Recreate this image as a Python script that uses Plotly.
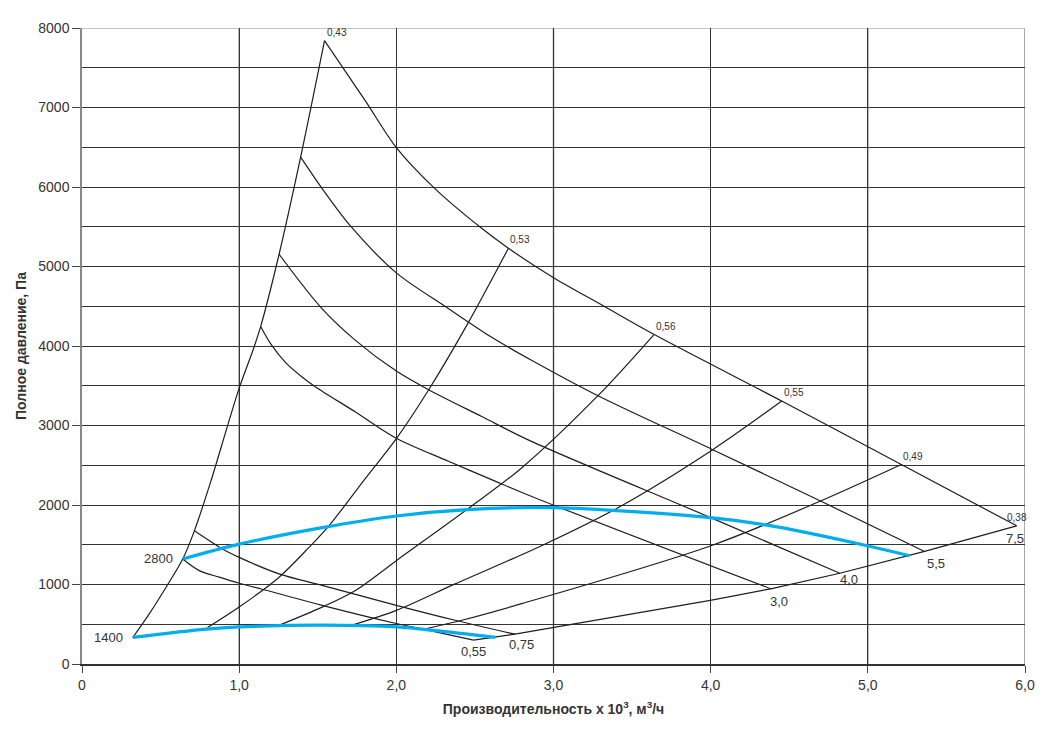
import plotly.graph_objects as go

# ---------------- data (Q in 10^3 m3/h, P in Pa) ----------------
# left envelope (from 1400 point up to top of 7.5 kW curve)
env_q = [0.322, 0.429, 0.535, 0.641, 0.715, 0.820, 0.926, 1.000, 1.095, 1.137, 1.254, 1.391, 1.543]
env_p = [330, 634, 966, 1321, 1675, 2300, 2996, 3470, 3988, 4246, 5154, 6375, 7841]

# fan curves labelled by motor power
c75_q = [1.543, 1.803, 2.000, 2.237, 2.533, 2.713, 2.998, 3.325, 3.632, 4.452, 5.213, 5.947]
c75_p = [7841, 7083, 6496, 5996, 5496, 5229, 4862, 4496, 4154, 3308, 2509, 1738]

c55_q = [1.391, 1.528, 1.708, 2.000, 2.310, 2.607, 2.860, 3.283, 4.013, 4.699, 5.361]
c55_p = [6375, 5980, 5510, 4920, 4500, 4110, 3821, 3375, 2696, 2050, 1416]

c40_q = [1.254, 1.518, 1.740, 2.000, 2.205, 2.543, 2.860, 4.000, 4.822]
c40_p = [5154, 4490, 4071, 3684, 3450, 3113, 2800, 1841, 1141]

c30_q = [1.137, 1.200, 1.296, 1.400, 1.486, 1.740, 2.000, 2.332, 2.628, 2.854, 4.382]
c30_p = [4246, 4030, 3790, 3610, 3485, 3170, 2840, 2550, 2300, 2113, 946]

c075_q = [0.715, 0.894, 1.000, 1.254, 1.528, 2.000, 2.374, 2.755]
c075_p = [1675, 1446, 1341, 1134, 988, 738, 550, 375]

c055_q = [0.641, 0.746, 0.873, 1.000, 1.254, 1.528, 2.000, 2.250, 2.491]
c055_p = [1321, 1175, 1092, 1016, 884, 738, 509, 405, 300]

# lower boundary (0,55 -> 0,75 -> 3,0 -> 4,0 -> 5,5 -> 7,5 end points)
bot_q = [2.491, 2.755, 3.998, 4.382, 4.822, 5.361, 5.947]
bot_p = [300, 375, 800, 946, 1141, 1416, 1738]

# efficiency lines
e53_q = [0.799, 1.000, 1.254, 1.444, 1.571, 1.790, 2.000, 2.205, 2.448, 2.713]
e53_p = [459, 716, 1092, 1466, 1738, 2300, 2834, 3446, 4259, 5229]

e56_q = [1.264, 1.528, 1.740, 2.000, 2.480, 2.797, 3.283, 3.638]
e56_p = [496, 716, 925, 1300, 1988, 2466, 3375, 4141]

e55_q = [1.729, 2.000, 2.374, 2.924, 3.410, 4.013, 4.452]
e55_p = [496, 675, 1008, 1488, 1966, 2696, 3308]

e49_q = [2.194, 2.416, 2.797, 4.002, 4.699, 5.213]
e49_p = [446, 550, 759, 1488, 2050, 2509]

# speed curves (blue)
n1400_q = [0.323, 0.789, 1.000, 1.528, 2.000, 2.269, 2.628]
n1400_p = [334, 438, 466, 488, 466, 416, 334]

n2800_q = [0.641, 1.000, 1.528, 2.000, 2.480, 2.998, 3.998, 4.362, 4.996, 5.266]
n2800_p = [1321, 1508, 1716, 1862, 1946, 1966, 1841, 1746, 1488, 1362]

eff_labels = ["0,43", "0,53", "0,56", "0,55", "0,49", "0,38"]
power_labels = ["0,55", "0,75", "3,0", "4,0", "5,5", "7,5"]
speed_labels = ["1400", "2800"]

x_ticks = [0, 1, 2, 3, 4, 5, 6]
x_ticktext = ["0", "1,0", "2,0", "3,0", "4,0", "5,0", "6,0"]
y_ticks = [0, 1000, 2000, 3000, 4000, 5000, 6000, 7000, 8000]

# ---------------- figure ----------------
BLACK = "#1e1e1e"
BLUE = "#00aeef"
TXT = "#333333"
FONT = "Liberation Sans, Arial, sans-serif"

fig = go.Figure()

def add_line(q, p, color=BLACK, width=1.2, shape="spline", smooth=0.9):
    line = dict(color=color, width=width, shape=shape)
    if shape == "spline":
        line["smoothing"] = smooth
    fig.add_trace(go.Scatter(x=q, y=p, mode="lines", line=line,
                             hoverinfo="skip", showlegend=False))

add_line(env_q, env_p)
for q, p in [(c75_q, c75_p), (c55_q, c55_p), (c40_q, c40_p), (c30_q, c30_p),
             (c075_q, c075_p), (c055_q, c055_p),
             (e53_q, e53_p), (e56_q, e56_p), (e55_q, e55_p), (e49_q, e49_p)]:
    add_line(q, p)
add_line(bot_q, bot_p, shape="linear")
add_line(n1400_q, n1400_p, color=BLUE, width=3.2)
add_line(n2800_q, n2800_p, color=BLUE, width=3.2)

# efficiency labels at top ends of efficiency lines
eff_pts = [(env_q[-1], env_p[-1]), (e53_q[-1], e53_p[-1]), (e56_q[-1], e56_p[-1]),
           (e55_q[-1], e55_p[-1]), (e49_q[-1], e49_p[-1]), (bot_q[-1], bot_p[-1])]
for i, (lab, (q, p)) in enumerate(zip(eff_labels, eff_pts)):
    last = i == len(eff_labels) - 1
    fig.add_annotation(x=q, y=p, text=lab, showarrow=False,
                       xanchor="center" if last else "left",
                       yanchor="bottom", xshift=0, yshift=1,
                       font=dict(family=FONT, size=10, color=TXT))

# power labels at lower ends of fan curves
pw_pts = [(c055_q[-1], c055_p[-1]), (c075_q[-1], c075_p[-1]), (c30_q[-1], c30_p[-1]),
          (c40_q[-1], c40_p[-1]), (c55_q[-1], c55_p[-1]), (c75_q[-1], c75_p[-1])]
pw_style = [("center", "top", 0, -2), ("left", "top", -8, -1), ("left", "top", -3, -3),
            ("left", "middle", -2, -6), ("left", "top", 0, -3), ("center", "top", -2, -3)]
for lab, (q, p), (xa, ya, xs, ys) in zip(power_labels, pw_pts, pw_style):
    fig.add_annotation(x=q, y=p, text=lab, showarrow=False, xanchor=xa, yanchor=ya,
                       xshift=xs, yshift=ys, font=dict(family=FONT, size=13, color=TXT))

# speed labels at start of blue curves
for lab, (q, p) in zip(speed_labels, [(n1400_q[0], n1400_p[0]), (n2800_q[0], n2800_p[0])]):
    fig.add_annotation(x=q, y=p, text=lab, showarrow=False, xanchor="right",
                       yanchor="middle", xshift=-8, yshift=0,
                       font=dict(family=FONT, size=13, color=TXT))

# lighter grid lines (as in the original print)
for gx in x_ticks[1::2] + [x_ticks[-1]]:
    fig.add_shape(type="line", xref="x", yref="paper", x0=gx, x1=gx, y0=0, y1=1,
                  line=dict(color="#8c8c8c", width=1.5), layer="below")
fig.add_shape(type="line", xref="paper", yref="y", x0=0, x1=1, y0=y_ticks[-1], y1=y_ticks[-1],
              line=dict(color="#b0b0b0", width=1.5), layer="below")

# page body has an 8px margin, so the figure is sized to fit inside the window
fig.update_layout(
    width=1043, height=726,
    margin=dict(l=71, r=26, t=16, b=70),
    paper_bgcolor="white", plot_bgcolor="white",
    font=dict(family=FONT, color=TXT, size=14),
    xaxis=dict(range=[0, 6], tickvals=x_ticks, ticktext=x_ticktext,
               ticks="outside", ticklen=7, tickcolor="#444", tickwidth=1,
               showline=True, linecolor="#333", linewidth=1.5,
               showgrid=True, gridcolor="#333", gridwidth=1, zeroline=False,
               tickfont=dict(family=FONT, size=14, color=TXT),
               title=dict(text="<b>Производительность x 10<sup>3</sup>, м<sup>3</sup>/ч</b>",
                          font=dict(family=FONT, size=14, color=TXT), standoff=13)),
    yaxis=dict(range=[0, 8000], tickvals=y_ticks,
               ticks="outside", ticklen=8, tickcolor="#444", tickwidth=1,
               showline=True, linecolor="#888", linewidth=1.5,
               showgrid=True, gridcolor="#333", gridwidth=1, zeroline=False,
               minor=dict(dtick=500, showgrid=True, gridcolor="#333", gridwidth=1, ticks=""),
               tickfont=dict(family=FONT, size=14, color=TXT),
               title=dict(text="<b>Полное давление, Па</b>",
                          font=dict(family=FONT, size=14, color=TXT), standoff=8)),
)

fig.write_html("out.html")
